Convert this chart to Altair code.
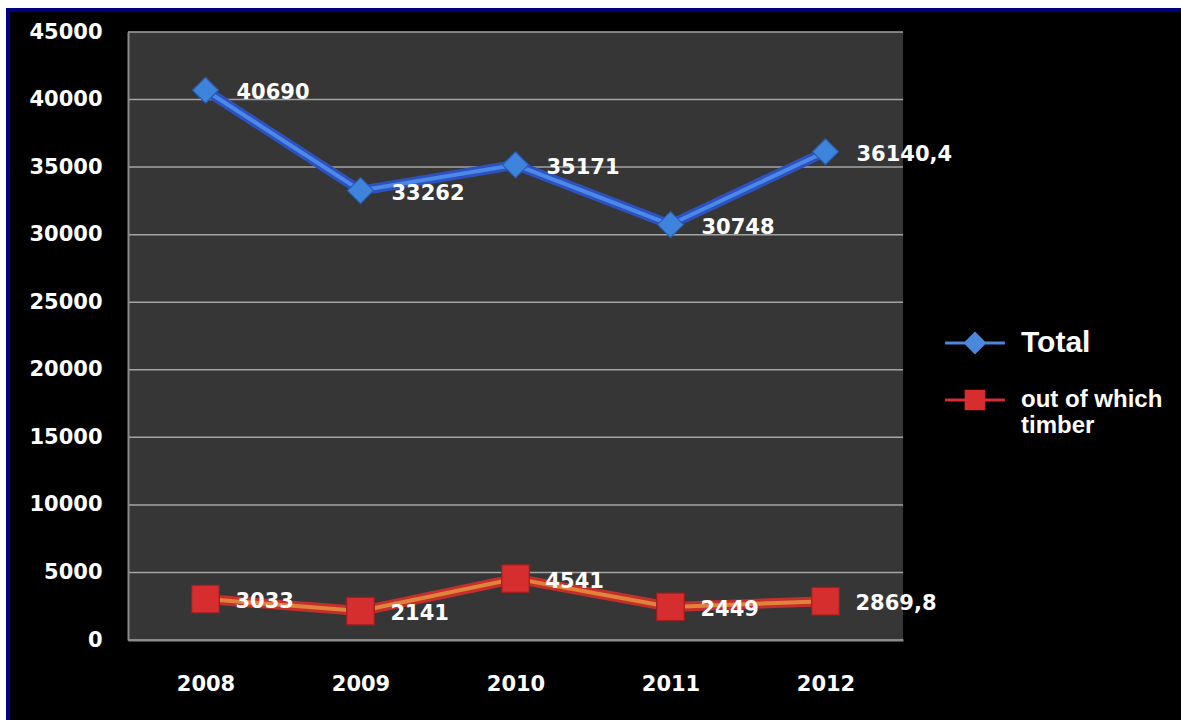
import altair as alt
import pandas as pd

# ---- data ----
years = ["2008", "2009", "2010", "2011", "2012"]
total = [40690, 33262, 35171, 30748, 36140.4]
timber = [3033, 2141, 4541, 2449, 2869.8]
total_labels = ["40690", "33262", "35171", "30748", "36140,4"]
timber_labels = ["3033", "2141", "4541", "2449", "2869,8"]
series_names = ["Total", "out of which timber"]
y_ticks = [0, 5000, 10000, 15000, 20000, 25000, 30000, 35000, 40000, 45000]

df = pd.DataFrame({
    "year": years * 2,
    "value": total + timber,
    "label": total_labels + timber_labels,
    "series": [series_names[0]] * len(years) + [series_names[1]] * len(years),
})
grid_df = pd.DataFrame({"value": y_ticks})

W, H = 775, 608
PAD = {"left": 128, "top": 32, "right": 1181 - 128 - W, "bottom": 720 - 32 - H}

x_scale = alt.Scale(type="point", padding=0.5)
y_scale = alt.Scale(domain=[0, 45000], nice=False, zero=True)

x_enc = alt.X("year:O", sort=years, scale=x_scale,
              axis=alt.Axis(title=None, labelAngle=0, grid=False, ticks=False,
                            labelPadding=33, domainColor="#8c8c8c", domainWidth=2,
                            zindex=1))
y_axis = alt.Axis(title=None, values=y_ticks, format="d", ticks=False,
                  labelPadding=26, grid=False, domainColor="#8c8c8c",
                  domainWidth=2, zindex=1)
y_enc = alt.Y("value:Q", scale=y_scale, axis=y_axis)

# plot-area background (drawn first)
one = pd.DataFrame({"k": [0]})
plot_bg = alt.Chart(one).mark_rect(color="#363636").encode(
    x=alt.value(0), x2=alt.value(W), y=alt.value(0), y2=alt.value(H))

# horizontal gridlines from the tick values
grid = alt.Chart(grid_df).mark_rule(color="#a4a4a4", strokeWidth=1.5).encode(
    y=alt.Y("value:Q", scale=y_scale, axis=y_axis),
    x=alt.value(0), x2=alt.value(W))


def series_layers(name, outer, inner, shape, size, fill, stroke, dx):
    d = df[df["series"] == name]
    base = alt.Chart(d).encode(x=x_enc, y=y_enc)
    l1 = base.mark_line(color=outer, strokeWidth=10, strokeJoin="round")
    l2 = base.mark_line(color=inner, strokeWidth=4, strokeJoin="round")
    pts = base.mark_point(shape=shape, size=size, filled=True, fill=fill, opacity=1,
                          stroke=stroke, strokeWidth=1.2)
    txt = base.mark_text(align="left", baseline="middle", dx=dx, dy=3, color="white",
                         font="DejaVu Sans", fontWeight="bold", fontSize=21).encode(
        text="label:N")
    return [l1, l2, pts, txt]


layers = []
layers += series_layers("Total", "#2d52bf", "#4c88e8", "diamond", 676,
                        "#3f84dc", "#2a5cb0", 31)
layers += series_layers("out of which timber", "#c42f2c", "#e0843c", "square", 760,
                        "#d62e2e", "#9c1f1f", 30)

# legend (library legend, symbols = marker with line stubs)
diamond_stub = ("M-2.6,-0.13L-0.87,-0.13L0,-1L0.87,-0.13L2.6,-0.13L2.6,0.13"
                "L0.87,0.13L0,1L-0.87,0.13L-2.6,0.13Z")
square_stub = ("M-2.6,-0.13L-0.9,-0.13L-0.9,-0.9L0.9,-0.9L0.9,-0.13L2.6,-0.13"
               "L2.6,0.13L0.9,0.13L0.9,0.9L-0.9,0.9L-0.9,0.13L-2.6,0.13Z")
leg = alt.Legend(
    title=None, orient="none", legendX=835, legendY=299, padding=0,
    symbolSize=529, symbolStrokeWidth=0, labelOffset=34, rowPadding=30,
    labelColor="white", labelFont="Liberation Sans", labelFontWeight="bold",
    labelFontSize=alt.ExprRef("datum.value == 'Total' ? 30 : 24"),
    labelLimit=0,
    labelExpr="datum.value == 'out of which timber' ? ['out of which', 'timber'] : datum.label",
)
legend_layer = alt.Chart(df).mark_point(filled=True, opacity=1, size=529).encode(
    fill=alt.Fill("series:N", scale=alt.Scale(domain=series_names,
                                               range=["#4a88dc", "#d62e2e"]), legend=leg),
    shape=alt.Shape("series:N", scale=alt.Scale(domain=series_names,
                                                 range=[diamond_stub, square_stub]),
                    legend=leg),
).transform_filter("false")

# picture frame (white margin + navy border at top/left), pixel decoration only
ox, oy = PAD["left"], PAD["top"]


def frame_rect(x0, y0, x1, y1, color):
    return alt.Chart(one).mark_rect(color=color).encode(
        x=alt.value(x0 - ox), x2=alt.value(x1 - ox),
        y=alt.value(y0 - oy), y2=alt.value(y1 - oy))


frame = [
    frame_rect(0, 0, 1181, 8, "white"),
    frame_rect(0, 0, 6, 720, "white"),
    frame_rect(6, 8, 1181, 12, "#000080"),
    frame_rect(6, 8, 10, 720, "#000080"),
]

chart = alt.layer(plot_bg, grid, *frame, *layers, legend_layer).properties(
    width=W, height=H, background="black", padding=PAD,
    autosize=alt.AutoSizeParams(type="none"),
).configure_view(strokeWidth=0).configure_axis(
    labelColor="white", labelFont="DejaVu Sans", labelFontWeight="bold", labelFontSize=21,
)

chart.save("out.html", embed_options={"renderer": "svg", "actions": False})
